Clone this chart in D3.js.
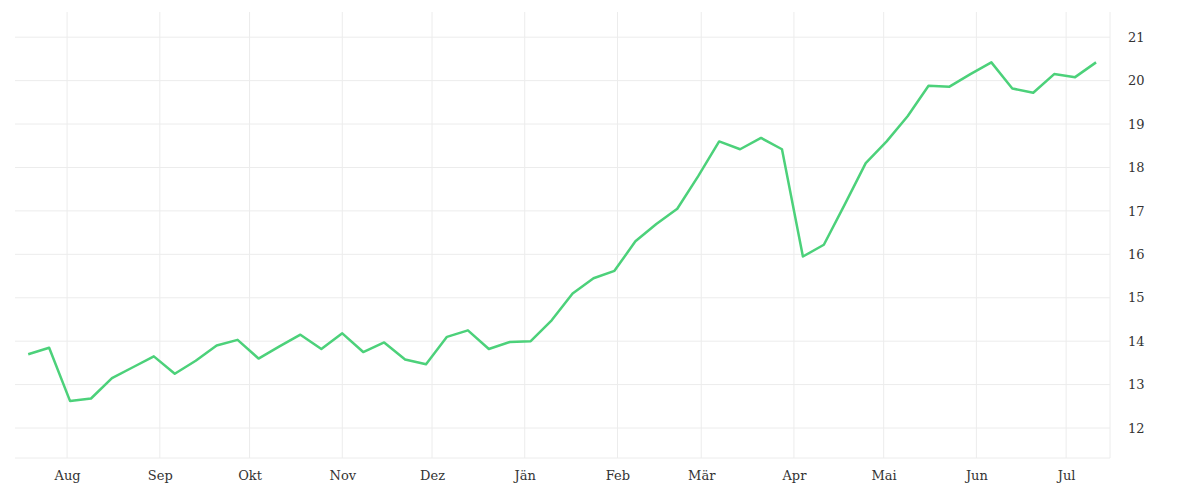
<!DOCTYPE html>
<html><head><meta charset="utf-8">
<script src="https://cdn.jsdelivr.net/npm/d3@7"></script>
<style>body{margin:0;background:#fff}</style>
</head><body><div id="plot"></div>
<script>
const startDate = "2018-07-19";
const values = [13.7, 13.85, 12.62, 12.68, 13.15, 13.4, 13.65, 13.25, 13.55, 13.9,
  14.03, 13.6, 13.88, 14.15, 13.82, 14.18, 13.75, 13.97, 13.58, 13.47,
  14.1, 14.25, 13.82, 13.98, 14.0, 14.48, 15.1, 15.45, 15.62, 16.3,
  16.7, 17.05, 17.8, 18.6, 18.42, 18.68, 18.42, 15.95, 16.22, 17.15,
  18.1, 18.6, 19.18, 19.88, 19.86, 20.15, 20.42, 19.82, 19.72, 20.15,
  20.08, 20.42];
const monthLabels = ["Aug","Sep","Okt","Nov","Dez","Jän","Feb","Mär","Apr","Mai","Jun","Jul"];
const yTicks = [12, 13, 14, 15, 16, 17, 18, 19, 20, 21];

const w = 1200, h = 500;
const margin = {top: 12, right: 90, bottom: 42, left: 15};
const t0 = new Date(startDate + "T00:00:00");
const dates = values.map((v, i) => d3.timeDay.offset(t0, i * 7));

const svg = d3.select("#plot").append("svg").attr("width", w).attr("height", h);

const x = d3.scaleTime()
    .domain([new Date("2018-07-14T14:00:00"), new Date("2019-07-15T16:00:00")])
    .range([margin.left, w - margin.right]);
const y = d3.scaleLinear()
    .domain([11.31, 21.58])
    .range([h - margin.bottom, margin.top]);

const monthTicks = d3.timeMonth.range(new Date("2018-08-01"), new Date("2019-07-02"));
const font = "'DejaVu Serif', serif";

// grid
svg.append("g").selectAll("line").data(monthTicks).enter().append("line")
    .attr("x1", d => x(d)).attr("x2", d => x(d))
    .attr("y1", margin.top).attr("y2", h - margin.bottom)
    .attr("stroke", "#ececec");
svg.append("g").selectAll("line").data(yTicks).enter().append("line")
    .attr("x1", margin.left).attr("x2", w - margin.right)
    .attr("y1", d => y(d)).attr("y2", d => y(d))
    .attr("stroke", "#ececec");
svg.append("line")
    .attr("x1", margin.left).attr("x2", w - margin.right)
    .attr("y1", h - margin.bottom).attr("y2", h - margin.bottom)
    .attr("stroke", "#ececec");
svg.append("line")
    .attr("x1", w - margin.right).attr("x2", w - margin.right)
    .attr("y1", margin.top).attr("y2", h - margin.bottom)
    .attr("stroke", "#ececec");

// axes
const xAxis = svg.append("g")
    .attr("transform", `translate(0, ${h - margin.bottom})`)
    .call(d3.axisBottom(x).tickValues(monthTicks).tickSize(0).tickPadding(13)
        .tickFormat((d, i) => monthLabels[i]));
const yAxis = svg.append("g")
    .attr("transform", `translate(${w - margin.right}, 0)`)
    .call(d3.axisRight(y).tickValues(yTicks).tickSize(0).tickPadding(18));
[xAxis, yAxis].forEach(a => {
  a.select(".domain").remove();
  a.selectAll("text").attr("fill", "#333").style("font-family", font).style("font-size", "13px");
});

// line
svg.append("path")
    .datum(values)
    .attr("fill", "none")
    .attr("stroke", "#4cd17a")
    .attr("stroke-width", 2.5)
    .attr("stroke-linejoin", "round")
    .attr("d", d3.line().x((d, i) => x(dates[i])).y(d => y(d)));
</script>
</body></html>
